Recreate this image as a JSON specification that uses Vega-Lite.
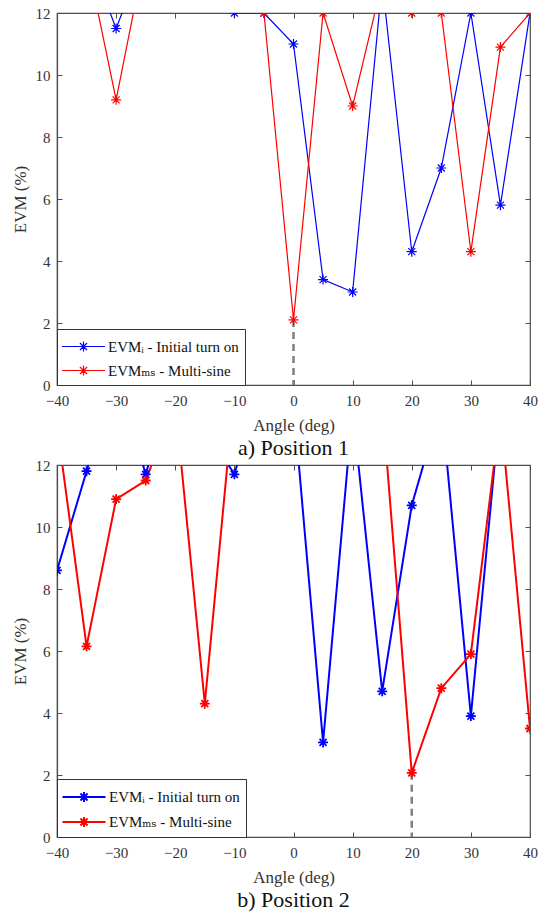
{
  "$schema": "https://vega.github.io/schema/vega-lite/v6.json",
  "padding": {"left": 10, "top": 5, "right": 6, "bottom": 5},
  "background": "white",
  "config": {
    "font": "Liberation Serif, Times New Roman, DejaVu Serif, serif",
    "view": {"stroke": "#4d4d4d", "strokeWidth": 1.2},
    "axis": {
      "labelFont": "Liberation Serif, Times New Roman, DejaVu Serif, serif", "labelFontSize": 15, "labelColor": "#333333",
      "titleFont": "Liberation Serif, Times New Roman, DejaVu Serif, serif", "titleFontSize": 17, "titleFontWeight": "normal", "titleColor": "#333333",
      "gridColor": "#e2e2e2", "gridWidth": 1,
      "domainColor": "#4d4d4d", "domainWidth": 1.2,
      "tickColor": "#4d4d4d", "tickSize": -5, "tickWidth": 1,
      "labelFlush": false, "labelOverlap": false
    },
    "legend": {
      "orient": "bottom-left", "offset": 0, "padding": 6,
      "strokeColor": "#333333", "fillColor": "white",
      "labelFont": "Liberation Serif, Times New Roman, DejaVu Serif, serif", "labelFontSize": 15, "labelColor": "#111111",
      "symbolType": "M-2,0L2,0M0,-0.46L0,0.46M-0.46,0L0.46,0M-0.33,-0.33L0.33,0.33M-0.33,0.33L0.33,-0.33",
      "symbolSize": 462, "symbolFillColor": "transparent", "symbolOffset": 9,
      "rowPadding": 4, "labelOffset": 13
    }
  },
  "datasets": {
    "evm": [
      {"panel": "a", "series": "EVMᵢ - Initial turn on", "angle": -40, "evm": 15},
      {"panel": "a", "series": "EVMᵢ - Initial turn on", "angle": -35, "evm": 14},
      {"panel": "a", "series": "EVMᵢ - Initial turn on", "angle": -30, "evm": 11.5},
      {"panel": "a", "series": "EVMᵢ - Initial turn on", "angle": -25, "evm": 14},
      {"panel": "a", "series": "EVMᵢ - Initial turn on", "angle": -20, "evm": 15},
      {"panel": "a", "series": "EVMᵢ - Initial turn on", "angle": -15, "evm": 15},
      {"panel": "a", "series": "EVMᵢ - Initial turn on", "angle": -10, "evm": 12},
      {"panel": "a", "series": "EVMᵢ - Initial turn on", "angle": -5, "evm": 12},
      {"panel": "a", "series": "EVMᵢ - Initial turn on", "angle": 0, "evm": 11.0},
      {"panel": "a", "series": "EVMᵢ - Initial turn on", "angle": 5, "evm": 3.4},
      {"panel": "a", "series": "EVMᵢ - Initial turn on", "angle": 10, "evm": 3.0},
      {"panel": "a", "series": "EVMᵢ - Initial turn on", "angle": 15, "evm": 13.0},
      {"panel": "a", "series": "EVMᵢ - Initial turn on", "angle": 20, "evm": 4.3},
      {"panel": "a", "series": "EVMᵢ - Initial turn on", "angle": 25, "evm": 7.0},
      {"panel": "a", "series": "EVMᵢ - Initial turn on", "angle": 30, "evm": 12},
      {"panel": "a", "series": "EVMᵢ - Initial turn on", "angle": 35, "evm": 5.8},
      {"panel": "a", "series": "EVMᵢ - Initial turn on", "angle": 40, "evm": 12},
      {"panel": "a", "series": "EVMₘₛ - Multi-sine", "angle": -40, "evm": 14},
      {"panel": "a", "series": "EVMₘₛ - Multi-sine", "angle": -35, "evm": 13.8},
      {"panel": "a", "series": "EVMₘₛ - Multi-sine", "angle": -30, "evm": 9.2},
      {"panel": "a", "series": "EVMₘₛ - Multi-sine", "angle": -25, "evm": 14},
      {"panel": "a", "series": "EVMₘₛ - Multi-sine", "angle": -20, "evm": 15},
      {"panel": "a", "series": "EVMₘₛ - Multi-sine", "angle": -15, "evm": 15},
      {"panel": "a", "series": "EVMₘₛ - Multi-sine", "angle": -10, "evm": 14},
      {"panel": "a", "series": "EVMₘₛ - Multi-sine", "angle": -5, "evm": 12},
      {"panel": "a", "series": "EVMₘₛ - Multi-sine", "angle": 0, "evm": 2.1},
      {"panel": "a", "series": "EVMₘₛ - Multi-sine", "angle": 5, "evm": 12},
      {"panel": "a", "series": "EVMₘₛ - Multi-sine", "angle": 10, "evm": 9.0},
      {"panel": "a", "series": "EVMₘₛ - Multi-sine", "angle": 15, "evm": 13.0},
      {"panel": "a", "series": "EVMₘₛ - Multi-sine", "angle": 20, "evm": 12},
      {"panel": "a", "series": "EVMₘₛ - Multi-sine", "angle": 25, "evm": 12},
      {"panel": "a", "series": "EVMₘₛ - Multi-sine", "angle": 30, "evm": 4.3},
      {"panel": "a", "series": "EVMₘₛ - Multi-sine", "angle": 35, "evm": 10.9},
      {"panel": "a", "series": "EVMₘₛ - Multi-sine", "angle": 40, "evm": 12},
      {"panel": "b", "series": "EVMᵢ - Initial turn on", "angle": -40, "evm": 8.6},
      {"panel": "b", "series": "EVMᵢ - Initial turn on", "angle": -35, "evm": 11.8},
      {"panel": "b", "series": "EVMᵢ - Initial turn on", "angle": -30, "evm": 15},
      {"panel": "b", "series": "EVMᵢ - Initial turn on", "angle": -25, "evm": 11.7},
      {"panel": "b", "series": "EVMᵢ - Initial turn on", "angle": -20, "evm": 15},
      {"panel": "b", "series": "EVMᵢ - Initial turn on", "angle": -15, "evm": 13.2},
      {"panel": "b", "series": "EVMᵢ - Initial turn on", "angle": -10, "evm": 11.7},
      {"panel": "b", "series": "EVMᵢ - Initial turn on", "angle": -5, "evm": 15},
      {"panel": "b", "series": "EVMᵢ - Initial turn on", "angle": 0, "evm": 14},
      {"panel": "b", "series": "EVMᵢ - Initial turn on", "angle": 5, "evm": 3.05},
      {"panel": "b", "series": "EVMᵢ - Initial turn on", "angle": 10, "evm": 13.8},
      {"panel": "b", "series": "EVMᵢ - Initial turn on", "angle": 15, "evm": 4.7},
      {"panel": "b", "series": "EVMᵢ - Initial turn on", "angle": 20, "evm": 10.7},
      {"panel": "b", "series": "EVMᵢ - Initial turn on", "angle": 25, "evm": 14},
      {"panel": "b", "series": "EVMᵢ - Initial turn on", "angle": 30, "evm": 3.9},
      {"panel": "b", "series": "EVMᵢ - Initial turn on", "angle": 35, "evm": 14},
      {"panel": "b", "series": "EVMᵢ - Initial turn on", "angle": 40, "evm": 14},
      {"panel": "b", "series": "EVMₘₛ - Multi-sine", "angle": -40, "evm": 13.3},
      {"panel": "b", "series": "EVMₘₛ - Multi-sine", "angle": -35, "evm": 6.15},
      {"panel": "b", "series": "EVMₘₛ - Multi-sine", "angle": -30, "evm": 10.9},
      {"panel": "b", "series": "EVMₘₛ - Multi-sine", "angle": -25, "evm": 11.5},
      {"panel": "b", "series": "EVMₘₛ - Multi-sine", "angle": -20, "evm": 14},
      {"panel": "b", "series": "EVMₘₛ - Multi-sine", "angle": -15, "evm": 4.3},
      {"panel": "b", "series": "EVMₘₛ - Multi-sine", "angle": -10, "evm": 14.4},
      {"panel": "b", "series": "EVMₘₛ - Multi-sine", "angle": -5, "evm": 15},
      {"panel": "b", "series": "EVMₘₛ - Multi-sine", "angle": 0, "evm": 15},
      {"panel": "b", "series": "EVMₘₛ - Multi-sine", "angle": 5, "evm": 15},
      {"panel": "b", "series": "EVMₘₛ - Multi-sine", "angle": 10, "evm": 15},
      {"panel": "b", "series": "EVMₘₛ - Multi-sine", "angle": 15, "evm": 14},
      {"panel": "b", "series": "EVMₘₛ - Multi-sine", "angle": 20, "evm": 2.07},
      {"panel": "b", "series": "EVMₘₛ - Multi-sine", "angle": 25, "evm": 4.8},
      {"panel": "b", "series": "EVMₘₛ - Multi-sine", "angle": 30, "evm": 5.9},
      {"panel": "b", "series": "EVMₘₛ - Multi-sine", "angle": 35, "evm": 13.7},
      {"panel": "b", "series": "EVMₘₛ - Multi-sine", "angle": 40, "evm": 3.5}
    ],
    "marker": [
      {"panel": "a", "angle": 0, "evm": 2.1},
      {"panel": "b", "angle": 20, "evm": 2.07}
    ]
  },
  "spacing": -3,
  "resolve": {"legend": {"color": "independent"}},
  "vconcat": [
    {
      "width": 473, "height": 372,
      "title": {"text": "a) Position 1", "orient": "bottom", "fontSize": 22, "fontWeight": "normal", "font": "Liberation Serif, Times New Roman, DejaVu Serif, serif", "color": "#111111", "offset": 5},
      "resolve": {"axis": {"x": "independent", "y": "independent"}},
      "layer": [
        {
          "data": {"name": "marker"},
          "transform": [{"filter": "datum.panel == 'a'"}],
          "mark": {"type": "rule", "color": "#7f7f7f", "strokeWidth": 2.5, "strokeDash": [7, 5]},
          "encoding": {
            "x": {"field": "angle", "type": "quantitative", "scale": {"domain": [-40, 40], "nice": false},
                  "axis": {"orient": "top", "values": [-40, -30, -20, -10, 0, 10, 20, 30, 40], "labels": false, "title": null, "grid": false, "domain": false}},
            "y": {"field": "evm", "type": "quantitative",
                  "axis": {"orient": "right", "values": [0, 2, 4, 6, 8, 10, 12], "labels": false, "title": null, "grid": false, "domain": false}},
            "y2": {"datum": 0}
          }
        },
        {
          "data": {"name": "evm"},
          "transform": [{"filter": "datum.panel == 'a'"}],
          "mark": {"type": "line", "clip": true, "strokeWidth": 1.2},
          "encoding": {
            "x": {"field": "angle", "type": "quantitative", "scale": {"domain": [-40, 40], "nice": false},
                  "axis": {"values": [-40, -30, -20, -10, 0, 10, 20, 30, 40], "title": "Angle (deg)", "labelPadding": 13, "titlePadding": 9}},
            "y": {"field": "evm", "type": "quantitative", "scale": {"domain": [0, 12], "nice": false},
                  "axis": {"values": [0, 2, 4, 6, 8, 10, 12], "title": "EVM (%)", "labelPadding": 12, "titlePadding": 6}},
            "color": {"field": "series", "type": "nominal",
                      "scale": {"domain": ["EVMᵢ - Initial turn on", "EVMₘₛ - Multi-sine"], "range": ["#0000ff", "#ff0000"]},
                      "legend": {"title": null, "symbolStrokeWidth": 1.2}}
          }
        },
        {
          "data": {"name": "evm"},
          "transform": [{"filter": "datum.panel == 'a'"}],
          "mark": {"type": "point", "clip": true, "filled": false, "size": 100, "strokeWidth": 1.2, "opacity": 1,
                   "shape": "M0,-1L0,1M-1,0L1,0M-0.7,-0.7L0.7,0.7M-0.7,0.7L0.7,-0.7"},
          "encoding": {
            "x": {"field": "angle", "type": "quantitative", "axis": null},
            "y": {"field": "evm", "type": "quantitative", "axis": null},
            "color": {"field": "series", "type": "nominal", "legend": null}
          }
        }
      ]
    },
    {
      "width": 473, "height": 372,
      "title": {"text": "b) Position 2", "orient": "bottom", "fontSize": 22, "fontWeight": "normal", "font": "Liberation Serif, Times New Roman, DejaVu Serif, serif", "color": "#111111", "offset": 5},
      "resolve": {"axis": {"x": "independent", "y": "independent"}},
      "layer": [
        {
          "data": {"name": "marker"},
          "transform": [{"filter": "datum.panel == 'b'"}],
          "mark": {"type": "rule", "color": "#7f7f7f", "strokeWidth": 2.5, "strokeDash": [7, 5]},
          "encoding": {
            "x": {"field": "angle", "type": "quantitative", "scale": {"domain": [-40, 40], "nice": false},
                  "axis": {"orient": "top", "values": [-40, -30, -20, -10, 0, 10, 20, 30, 40], "labels": false, "title": null, "grid": false, "domain": false}},
            "y": {"field": "evm", "type": "quantitative",
                  "axis": {"orient": "right", "values": [0, 2, 4, 6, 8, 10, 12], "labels": false, "title": null, "grid": false, "domain": false}},
            "y2": {"datum": 0}
          }
        },
        {
          "data": {"name": "evm"},
          "transform": [{"filter": "datum.panel == 'b'"}],
          "mark": {"type": "line", "clip": true, "strokeWidth": 2},
          "encoding": {
            "x": {"field": "angle", "type": "quantitative", "scale": {"domain": [-40, 40], "nice": false},
                  "axis": {"values": [-40, -30, -20, -10, 0, 10, 20, 30, 40], "title": "Angle (deg)", "labelPadding": 13, "titlePadding": 9}},
            "y": {"field": "evm", "type": "quantitative", "scale": {"domain": [0, 12], "nice": false},
                  "axis": {"values": [0, 2, 4, 6, 8, 10, 12], "title": "EVM (%)", "labelPadding": 12, "titlePadding": 6}},
            "color": {"field": "series", "type": "nominal",
                      "scale": {"domain": ["EVMᵢ - Initial turn on", "EVMₘₛ - Multi-sine"], "range": ["#0000ff", "#ff0000"]},
                      "legend": {"title": null, "symbolStrokeWidth": 2}}
          }
        },
        {
          "data": {"name": "evm"},
          "transform": [{"filter": "datum.panel == 'b'"}],
          "mark": {"type": "point", "clip": true, "filled": false, "size": 100, "strokeWidth": 1.8, "opacity": 1,
                   "shape": "M0,-1L0,1M-1,0L1,0M-0.7,-0.7L0.7,0.7M-0.7,0.7L0.7,-0.7"},
          "encoding": {
            "x": {"field": "angle", "type": "quantitative", "axis": null},
            "y": {"field": "evm", "type": "quantitative", "axis": null},
            "color": {"field": "series", "type": "nominal", "legend": null}
          }
        }
      ]
    }
  ]
}
